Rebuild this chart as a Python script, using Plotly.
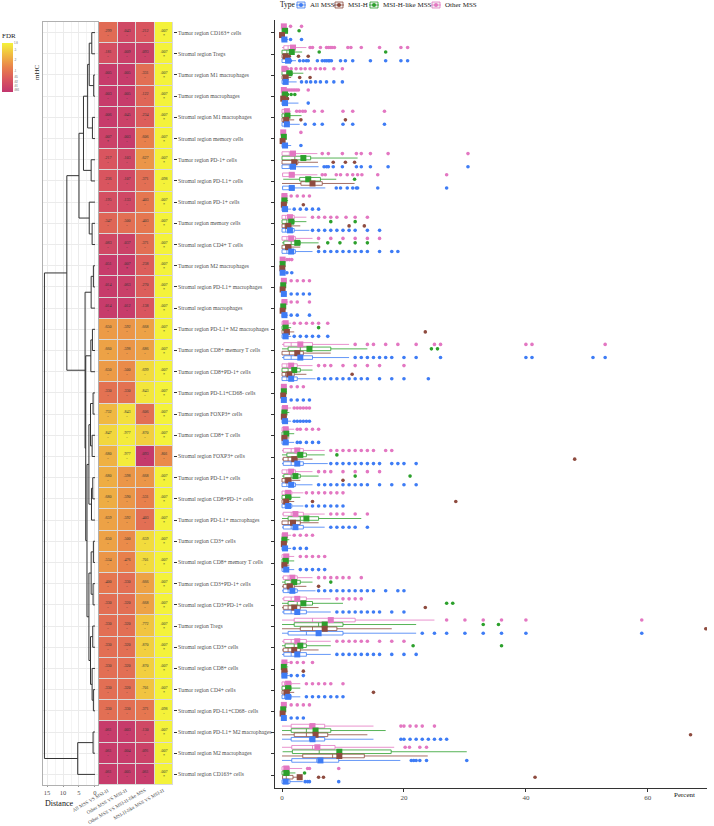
import plotly.graph_objects as go

rows = [
 "Tumor region CD163+ cells","Stromal region Tregs","Tumor region M1 macrophages","Tumor region macrophages",
 "Stromal region M1 macrophages","Stromal region memory cells","Tumor region PD-1+ cells","Stromal region PD-L1+ cells",
 "Stromal region PD-1+ cells","Tumor region memory cells","Stromal region CD4+ T cells","Tumor region M2 macrophages",
 "Stromal region PD-L1+ macrophages","Stromal region macrophages","Tumor region PD-L1+ M2 macrophages",
 "Tumor region CD8+ memory T cells","Tumor region CD8+PD-1+ cells","Tumor region PD-L1+CD68- cells",
 "Tumor region FOXP3+ cells","Tumor region CD8+ T cells","Stromal region FOXP3+ cells","Tumor region PD-L1+ cells",
 "Stromal region CD8+PD-1+ cells","Tumor region PD-L1+ macrophages","Tumor region CD3+ cells",
 "Stromal region CD8+ memory T cells","Tumor region CD3+PD-1+ cells","Stromal region CD3+PD-1+ cells",
 "Tumor region Tregs","Stromal region CD3+ cells","Stromal region CD8+ cells","Tumor region CD4+ cells",
 "Stromal region PD-L1+CD68- cells","Stromal region PD-L1+ M2 macrophages","Stromal region M2 macrophages",
 "Stromal region CD163+ cells"]

comparisons = ["All MSS VS MSI-H","Other MSS VS MSI-H","Other MSS VS MSI-H-like MSS","MSI-H-like MSS VS MSI-H"]

heat_color = [
 [0.38,0.15,0.25,1],[0.2,0.08,0.1,1],[0.05,0.05,0.4,1],[0.05,0.05,0.35,1],[0.05,0.1,0.3,1],[0.1,0.05,0.5,1],
 [0.25,0.15,0.6,1],[0.25,0.15,0.4,1],[0.2,0.15,0.45,1],[0.35,0.4,0.45,1],[0.15,0.1,0.4,1],[0.05,0.05,0.3,1],
 [0.05,0.08,0.3,1],[0.05,0.05,0.25,1],[0.62,0.6,0.65,1],[0.65,0.6,0.65,1],[0.62,0.55,0.9,1],[0.42,0.42,0.95,1],
 [0.75,0.92,0.4,1],[0.88,0.97,0.85,1],[0.72,0.97,0.03,0.55],[0.7,0.6,0.6,1],[0.7,0.6,0.5,1],[0.65,0.6,0.4,1],
 [0.65,0.55,0.9,1],[0.6,0.5,0.9,1],[0.45,0.4,0.65,1],[0.4,0.4,0.65,1],[0.4,0.4,0.8,1],[0.4,0.4,0.85,1],
 [0.4,0.4,0.85,1],[0.4,0.4,0.8,1],[0.4,0.4,0.45,1],[0.05,0.05,0.15,1],[0.05,0.05,0.1,1],[0.05,0.05,0.05,1]]

heat_text = [
 [".299",".043",".212",".007"],[".181",".009",".093",".007"],[".005",".005",".331",".007"],[".003",".005",".122",".007"],
 [".006",".045",".234",".007"],[".007",".003",".606",".007"],[".217",".103",".627",".007"],[".236",".107",".371",".098"],
 [".195",".133",".403",".007"],[".347",".500",".403",".007"],[".083",".037",".371",".007"],[".051",".007",".238",".007"],
 [".014",".063",".270",".007"],[".014",".012",".138",".007"],[".650",".592",".668",".007"],[".660",".598",".686",".007"],
 [".650",".500",".699",".007"],[".330",".330",".843",".007"],[".732",".843",".606",".007"],[".847",".977",".870",".007"],
 [".680",".977",".093",".801"],[".680",".598",".668",".007"],[".680",".590",".531",".007"],[".659",".592",".403",".007"],
 [".650",".500",".659",".007"],[".534",".476",".701",".007"],[".400",".330",".666",".007"],[".330",".320",".668",".007"],
 [".330",".320",".772",".007"],[".330",".320",".870",".007"],[".330",".320",".870",".007"],[".330",".320",".701",".007"],
 [".330",".330",".371",".098"],[".061",".003",".130",".007"],[".061",".004",".091",".007"],[".061",".005",".061",".007"]]

# dendrogram merges: (id, left, right, height) ; ints are leaf rows
merges = [
 ("a1",1,2,1.0),("a2",3,4,0.4),("a3","a1","a2",1.8),("a4",5,6,0.8),("P","a3","a4",2.3),
 ("Q",7,8,1.2),("N250","P","Q",3.6),
 ("r1",10,11,0.9),("R",9,"r1",1.8),("N237","N250","R",5.0),
 ("s1",12,13,0.5),("S1","s1",14,1.2),
 ("b1",15,16,0.8),("S2a","b1",17,1.3),
 ("c1",18,19,0.6),("c2",20,21,0.9),("c3","c1","c2",1.4),("c4",22,23,0.7),("c5","c4",24,1.1),("S2b1","c3","c5",1.9),
 ("d1",25,26,0.5),("d2",27,28,0.6),("d3","d1","d2",1.2),("d4",29,30,0.7),("d5",32,33,0.5),("d6",31,"d5",0.9),
 ("d7","d4","d6",1.4),("S2b2","d3","d7",1.9),("S2b","S2b1","S2b2",2.5),("S2","S2a","S2b",2.9),
 ("S","S1","S2",3.1),("N200","N237","S",8.8),
 ("e1",34,35,0.6),("C","e1",36,5.4),("root","N200","C",15.8)]

types = ["Other MSS","MSI-H-like MSS","MSI-H","All MSS"]
legend_order = ["All MSS","MSI-H","MSI-H-like MSS","Other MSS"]
type_colors = {"All MSS":"#3E7CF5","MSI-H":"#8E4B3F","MSI-H-like MSS":"#2CA02C","Other MSS":"#E377C2"}

# per row stats: (q1, median, q3, lower whisker, upper whisker, mean)
stats = {
"Other MSS": [
 (0,0.1,0.5,0,0.8,0.3),(0.3,1,2.2,0,4,1.8),(0,0.2,0.5,0,0.8,0.4),(0,0.1,0.3,0,0.6,0.3),(0,0.4,0.8,0,1.5,0.8),
 (0,0.1,0.3,0,0.5,0.2),(0,1.2,2.1,0,5.8,1.8),(0.1,1.2,2,0,5.8,1.6),(0,0.2,0.6,0,1,0.4),(0,0.6,2,0,4,1.3),
 (0,0.8,2.2,0,5,1.5),(0,0,0.2,0,0.4,0.1),(0,0.1,0.4,0,0.8,0.3),(0,0.2,0.6,0,1,0.4),(0,0.2,0.8,0,1.5,0.6),
 (0.3,1.5,5,0,11,3),(0,0.8,2.5,0,5,1.5),(0,0.1,0.4,0,0.8,0.3),(0,0.2,0.8,0,1.5,0.5),(0,0.3,1,0,2,0.6),
 (0.2,1.5,3.5,0,7,2.5),(0,0.8,2.2,0,5,1.5),(0,0.5,1.6,0,3.5,1),(0.2,1.5,3.5,0,7,2.2),(0,0.2,0.8,0,1.5,0.5),
 (0,0.3,1,0,2,0.7),(0.2,1,2.5,0,5,1.7),(0.3,1.5,4,0,8,2.5),(2,5,12,0,25,8),(0.3,1.5,4,0,8,2.5),
 (0,0.2,0.6,0,1.2,0.4),(0,0.4,1.5,0,3,1),(0,0.1,0.4,0,0.8,0.3),(1.5,4.5,7,0,15,5),(1.6,5.0,8.7,0,18.4,5.8),
 (0,0.5,1.2,0,3.3,0.7)],
"MSI-H-like MSS": [
 (0,0.2,0.6,0,1,0.5),(0,0.8,1.5,0,3.3,1.6),(0,0.8,1.7,0,3.5,1.2),(0,0.3,0.7,0,0.8,0.5),(0,0.4,0.9,0,3.2,0.9),
 (0,0.2,0.4,0,0.5,0.3),(0,2.1,4.7,0,12.4,3.5),(2.9,4.6,6.3,0.2,8.9,4.3),(0,0.3,0.6,0,1,0.4),(0,0.8,2,0,4,1.5),
 (0.3,1.5,3,0,6,2.5),(0,0.1,0.2,0,0.3,0.1),(0,0.1,0.3,0,0.5,0.2),(0,0.1,0.3,0,0.5,0.2),(0,0.3,0.8,0,1.5,0.6),
 (1,3,8,0,14,4.5),(0,1,3,0,5,2),(0,0.2,0.5,0,0.8,0.3),(0,0.2,0.6,0,1.2,0.4),(0,0.4,1,0,2,0.7),
 (0.8,2.5,4,0,7,3),(0.3,1.5,3,0,6,2.2),(0,0.6,1.5,0,3,1),(1,3,6,0,13,4),(0,0.2,0.6,0,1.2,0.4),
 (0,0.3,1,0,2,0.6),(0.5,1.5,3,0,5,2),(1,2.5,5,0,10,3.5),(2,6,10,0,22,7),(0.5,2,4,0,8,3),
 (0,0.2,0.5,0,1,0.3),(0,0.6,1.5,0,3,1),(0,0.1,0.3,0,0.5,0.2),(1.5,4,8,0,17,5.5),(1.7,6.1,17.9,0.1,30.3,9.4),
 (0,0.5,1.2,0,2.2,0.7)],
"MSI-H": [
 (0,0,0.1,0,0.1,0),(0,0.3,0.8,0,1.1,0.6),(0,0.3,0.8,0,1.5,0.6),(0,0.1,0.4,0,0.5,0.2),(0,0.3,0.8,0,2,0.7),
 (0,0.1,0.2,0,0.3,0.1),(0,1.8,2.6,0,5.9,2),(3.1,5.2,6.6,0,11.9,5),(0,0.2,0.5,0,0.8,0.3),(0,0.5,1.5,0,3,1),
 (0,0.6,1.5,0,3,1),(0,0,0.1,0,0.2,0.05),(0,0.1,0.2,0,0.3,0.1),(0,0.1,0.2,0,0.3,0.1),(0,0.3,1,0,2,0.8),
 (0,1.2,3.5,0,8,2.5),(0,0.6,2,0,4,1.2),(0,0.1,0.3,0,0.5,0.2),(0,0.1,0.4,0,0.8,0.3),(0,0.2,0.6,0,1.2,0.4),
 (0.2,1,2.5,0,5,2),(0,0.5,1.5,0,3,1),(0,0.3,1,0,2,0.7),(0,1,3,0,6,1.8),(0,0.1,0.4,0,0.8,0.3),
 (0,0.2,0.6,0,1.2,0.4),(0.2,0.8,2,0,4,1.3),(0.2,1,3,0,6,2),(3,5,9,0,18,7),(0.2,1,3,0,6,2),
 (0,0.2,0.5,0,1,0.4),(0,0.3,1,0,2,0.8),(0,0.1,0.2,0,0.4,0.1),(2,4,7.5,0,14,5.5),(3.4,8.3,13.5,0,23.9,9.4),
 (0.1,0.7,1.8,0,2.6,2.9)],
"All MSS": [
 (0,0.2,0.6,0,1,0.4),(0,0.6,1.2,0,2.3,1.0),(0,0.3,0.8,0,2.4,0.6),(0,0.3,0.7,0,2.7,0.5),(0,0.4,0.8,0,2.9,0.8),
 (0,0.2,0.8,0,1.5,0.5),(0,1.2,2.1,0,6,1.8),(0.1,1.2,2,0,7.1,1.6),(0,0.3,0.8,0,1.5,0.5),(0,0.6,2,0,4.5,1.3),
 (0,0.8,2.2,0,5,1.5),(0,0.1,0.2,0,0.4,0.1),(0,0.1,0.4,0,0.8,0.3),(0,0.2,0.6,0,1,0.4),(0,0.2,0.8,0,1.5,0.6),
 (0.3,1.5,5,0,11,3),(0,0.8,2.5,0,5.5,1.5),(0,0.1,0.4,0,0.8,0.3),(0,0.2,0.8,0,1.5,0.5),(0,0.3,1,0,2,0.6),
 (0.2,1.5,3.5,0,7.5,2.5),(0,0.8,2.2,0,5,1.5),(0,0.5,1.6,0,3.5,1),(0.2,1.5,3.5,0,7,2.2),(0,0.2,0.8,0,1.5,0.5),
 (0,0.3,1,0,2,0.7),(0.2,1,2.5,0,5.5,1.7),(0.3,1.5,4,0,8,2.5),(1,4,10,0,22,6),(0.3,1.5,4,0,8,2.5),
 (0,0.2,0.6,0,1.2,0.4),(0,0.4,1.5,0,3,1),(0,0.1,0.4,0,0.8,0.3),(1.5,4.5,7,0,15,5),(1.6,5.7,9.3,0,19.4,6.3),
 (0,0.5,1.3,0,3.4,0.6)]}

outliers = {
"Other MSS": [
 [1.4,3.2],[4.6,5,6.3,7.3,7.6,7.9,8.2,8.6,10.8,11.3,13,16,19.5,20.6],[0.9,1.5,2.3,3.1,3.8,4.6,5.5,6.3,7,8.5,9.9],
 [0.9,1.2,1.5,1.8,2.1,2.4,2.7,4.3],[2.4,2.9,3.4,3.8,5.3,6.6,10,11.6,16.8],[3.1],[6.6,7.6,9.9,12.2,13,14.5,17.4,30.5],
 [6.6,7.1,8.9,9.6,10.7,11.6,12.4,13.1,15.7,27],[1.5,2.5,3.5,4.5],[5,6,7,8,9,10.5,12,14],[6,8,10,12,14,16],
 [0.8,1.2,1.6],[1.5,2.5,3.5,4.5],[1.5,2.5,4.5],[2,3,4,5,6,7.5],[12,14,15,17,19,22,25,26,40,41,53],
 [6,7,8,10,12,14,16,20],[1.5,2.5,3.5],[2,2.5,3,3.5,4,4.5],[2.5,3,4,5,6],[8,9,10,11,12,13,14,15,17,18],
 [6,7,8,10,12,14,16],[4,5,6,7,8,9,10],[8,9,10,12,14],[2,3,4,5],[3,4,5,6,7],[6,7,8,9,10,11,13],[9,10,11,12,13],
 [27,30,33,36,40,59],[9,10,11,12,13,14,16,18,20],[1.5,2.5,3.5,5],[4,5,6,7,8,10],[1.5,2.5,3.5,4.5],
 [19.5,20,21,22,23,25],[20.2,20.9,22.6,23.7],[4.2,4.5,9.3]],
"MSI-H-like MSS": [
 [2.8],[6.1,17],[],[0.9,1.5,2.1],[],[],[],[11.9],[],[8,12],[7.5,9.5,12,14],[],[],[],[6],[24.5,25.5],[],[],[],[],
 [9],[12,21],[],[],[],[],[8],[27,28],[33,35.5],[21.5,36],[],[],[],[],[],[3.7]],
"MSI-H": [
 [],[1.2,2.7,4.3],[2.9,4.6],[0.5,0.9],[3.1,10.4],[],[8.4,10.4,11.9],[],[3.5],[11,13.5],[6],[],[],[],[23.5],[],
 [11.5],[],[],[],[48],[10],[5,28.5],[],[],[],[6],[23.5],[69.5],[],[3.5],[15],[],[67],[],[6,6.8,41.5]],
"All MSS": [
 [1.4,3.2],[1.4,2.9,3.5,4,4.3,5.8,6.6,7,7.3,7.6,7.8,8.1,9.6,10.4,11.6,14.5,17,19.5,20.6],[3.2,4,4.7,5.5,6.3,7.3,8.5,9.9],
 [4.3],[3.8,5.3,6.6,10,11.6,16.8],[3.1],[6.9,7.3,7.6,8.4,9.9,12.2,13,14.5,17.4,30.5],[8.9,9.6,10.7,11.6,12.2,12.4,15.7,27],
 [2,3,4,5,6],[5,6,7,8,9,10,11,12,14,16],[6,7,8,9,10,11,12,13,14,16,18,19],[0.8,1.6],[1.5,2.5,3.5,4.5],[1.5,2.5,4.5],
 [2,3,4,5,6,7.5],[12,13,14,15,16,17,18,20,22,26,40,41,51,53],[6,7,8,9,10,11,12,13,14,16,18,20,24],[1.5,2.5,3.5,4.5],
 [2,2.5,3,3.5,4,4.5],[2.5,3,4,5,6],[8,9,10,11,12,13,14,15,16,18,19,20,22],[6,7,8,9,10,11,12,13,14,16,18,20,22],
 [4,5,6,7,8,9,10],[8,9,10,11,12,14],[2,3,4],[3,4,5,6,7],[6,7,8,9,10,11,12,13,14,15,17,19,20],
 [9,10,11,12,13,14,15,16,18,20],[23,25,27,30,33,36,40,59],[9,10,11,12,13,14,15,16,18,20,22],[1.5,2.5,3.5],
 [4,5,6,7,8,9,10],[1.5,2.5,3.5],[19.5,20,21,22,23,24,25,26,27],[21.2,21.6,22,22.6,23.7,30.3],[3.8,4.2,4.5,9.3]]}

# ------------------------------------------------------------------
W, H = 714, 826
SERIF = "Liberation Serif"
GREY = "#4D4D4D"
def px(x): return x / W
def py(y): return 1 - y / H

n = len(rows)
ridx = list(range(1, n + 1))
fig = go.Figure()

# dendrogram
pos = {}
dx, dy = [], []
for name, l, r, h in merges:
    yl = l if isinstance(l, int) else pos[l][0]
    yr = r if isinstance(r, int) else pos[r][0]
    hl = 0 if isinstance(l, int) else pos[l][1]
    hr = 0 if isinstance(r, int) else pos[r][1]
    dx += [hl, h, h, hr, None]
    dy += [yl, yl, yr, yr, None]
    pos[name] = ((yl + yr) / 2, h)
fig.add_trace(go.Scatter(x=dx, y=dy, mode="lines", line=dict(color="#333333", width=1),
                         xaxis="x", yaxis="y", showlegend=False, hoverinfo="skip"))

# heatmap
txt = [[f"{heat_text[i][j]}<br>{'*' if heat_text[i][j]=='.007' else '-'}" for j in range(4)] for i in range(n)]
fig.add_trace(go.Heatmap(
    z=heat_color, x=list(range(4)), y=ridx, text=txt, texttemplate="%{text}",
    textfont=dict(size=4, color="#333333", family=SERIF),
    colorscale=[[0, "#C2366E"], [0.25, "#D9555F"], [0.5, "#E8804C"], [0.75, "#F0B842"], [1, "#F4F23A"]],
    zmin=0, zmax=1, xgap=1, ygap=1, xaxis="x2", yaxis="y2",
    colorbar=dict(x=px(2), xanchor="left", y=py(30), yanchor="top", len=62 / H, lenmode="fraction",
                  thickness=11, outlinewidth=0, xpad=0, ypad=0,
                  title=dict(text="FDR", side="top", font=dict(size=7, family=SERIF, color="#222")),
                  tickvals=[1, 0.85, 0.65, 0.42, 0.3, 0.2, 0.12, 0.05],
                  ticktext=["1.0", ".5", ".2", ".1", ".05", ".02", ".01", ".001"],
                  tickfont=dict(size=3, family=SERIF, color=GREY), ticks="", ticklen=0)))

# boxes
offsets = {"Other MSS": -0.31, "MSI-H-like MSS": -0.10, "MSI-H": 0.10, "All MSS": 0.31}
for t in types:
    c = type_colors[t]
    s = stats[t]
    yy = [r + offsets[t] for r in ridx]
    fig.add_trace(go.Box(
        orientation="h", y=yy, q1=[v[0] for v in s], median=[v[1] for v in s], q3=[v[2] for v in s],
        lowerfence=[v[3] for v in s], upperfence=[v[4] for v in s], width=0.17,
        line=dict(color=c, width=0.8), fillcolor="rgba(255,255,255,0)", whiskerwidth=0,
        xaxis="x3", yaxis="y3", showlegend=False, hoverinfo="skip", name=t))
    ox, oy = [], []
    for i, lst in enumerate(outliers[t]):
        for v in lst:
            ox.append(v); oy.append(ridx[i] + offsets[t])
    fig.add_trace(go.Scatter(x=ox, y=oy, mode="markers", marker=dict(color=c, size=3.6),
                             xaxis="x3", yaxis="y3", showlegend=False, hoverinfo="skip"))
    fig.add_trace(go.Scatter(x=[v[5] for v in s], y=yy, mode="markers", marker=dict(color=c, size=6, symbol="square"),
                             xaxis="x3", yaxis="y3", showlegend=False, hoverinfo="skip"))

# grey frame behind heatmap
shapes = [dict(type="rect", xref="x2", yref="y2", x0=-0.56, x1=3.56, y0=0.45, y1=36.55,
               fillcolor="#D9D9D9", line=dict(width=0), layer="below")]

axis_font = dict(size=7, family=SERIF, color=GREY)
fig.update_layout(
    width=W, height=H, margin=dict(l=0, r=0, t=0, b=0), paper_bgcolor="white", plot_bgcolor="white",
    xaxis=dict(domain=[px(43), px(98)], range=[16.25, -0.94], tickvals=[15, 10, 5, 0], ticktext=["15", "10", "5", "0"],
               tickfont=dict(size=6.5, family=SERIF, color=GREY), ticks="outside", ticklen=1, tickcolor="#999",
               showgrid=True, gridcolor="#EBEBEB",
               gridwidth=1, minor=dict(tickvals=[12.5, 7.5, 2.5], showgrid=True, gridcolor="#F4F4F4"),
               zeroline=False, showline=True, linecolor="#B0B0B0", mirror=True, anchor="y"),
    yaxis=dict(domain=[py(785), py(22)], range=[36.5, 0.5], tickvals=ridx, showticklabels=False, showgrid=True,
               gridcolor="#EBEBEB", zeroline=False, showline=True, linecolor="#B0B0B0", mirror=True, anchor="x"),
    xaxis2=dict(domain=[px(99), px(173)], range=[-0.5, 3.5], showticklabels=False, showgrid=False, zeroline=False,
                anchor="y2"),
    yaxis2=dict(domain=[py(785), py(22)], range=[36.5, 0.5], side="right", anchor="x2", tickvals=ridx, ticktext=rows,
                ticks="outside", ticklen=3, tickcolor="#333", tickfont=dict(size=5.6, family=SERIF, color=GREY),
                showgrid=False, zeroline=False),
    xaxis3=dict(domain=[px(275), px(707)], range=[-1.15, 69.7], tickvals=[0, 20, 40, 60], tickfont=axis_font,
                ticks="outside", ticklen=3, tickcolor="#333", showline=True, linecolor="#333", linewidth=1,
                showgrid=False, zeroline=False, anchor="y3"),
    yaxis3=dict(domain=[py(788), py(20)], range=[36.61, 0.39], tickvals=ridx, showticklabels=False, ticks="outside",
                ticklen=3, tickcolor="#333", showline=True, linecolor="#333", linewidth=1, showgrid=False,
                zeroline=False, anchor="x3"),
    boxmode="overlay",
)

ann = []
ann.append(dict(text="Distance", x=px(43), y=py(803), xref="paper", yref="paper", xanchor="left", yanchor="middle",
                showarrow=False, font=dict(size=8, family=SERIF, color="#111")))
ann.append(dict(text="Percent", x=px(684), y=py(795), xref="paper", yref="paper", xanchor="center", yanchor="middle",
                showarrow=False, font=dict(size=7, family=SERIF, color="#111")))
ann.append(dict(text="mHC", x=px(31), y=py(62), xref="paper", yref="paper", textangle=-90, showarrow=False,
                font=dict(size=7, family=SERIF, color="#222")))
for j, c in enumerate(comparisons):
    ann.append(dict(text=c, x=j, y=py(785), xref="x2", yref="paper", xanchor="right", yanchor="top", xshift=4,
                    textangle=-30, showarrow=False, font=dict(size=5.0, family=SERIF, color=GREY)))

# custom legend
ann.append(dict(text="Type", x=px(278), y=py(5), xref="paper", yref="paper", xanchor="left", yanchor="middle",
                showarrow=False, font=dict(size=7.5, family=SERIF, color="#111")))
lx = [297, 335, 370, 432]
for k, t in enumerate(legend_order):
    c = type_colors[t]
    x0 = lx[k]
    shapes.append(dict(type="rect", xref="paper", yref="paper", x0=px(x0), x1=px(x0 + 8), y0=py(8), y1=py(2),
                       line=dict(color=c, width=0.8), fillcolor="rgba(200,200,200,0.25)"))
    shapes.append(dict(type="line", xref="paper", yref="paper", x0=px(x0 - 1), x1=px(x0 + 9), y0=py(5), y1=py(5),
                       line=dict(color=c, width=0.8)))
    shapes.append(dict(type="circle", xref="paper", yref="paper", x0=px(x0 + 2), x1=px(x0 + 6), y0=py(7), y1=py(3),
                       line=dict(width=0), fillcolor=c))
    ann.append(dict(text=t, x=px(x0 + 11), y=py(5), xref="paper", yref="paper", xanchor="left", yanchor="middle",
                    showarrow=False, font=dict(size=7, family=SERIF, color="#222")))
fig.update_layout(annotations=ann, shapes=shapes)

fig.write_html("out.html")
